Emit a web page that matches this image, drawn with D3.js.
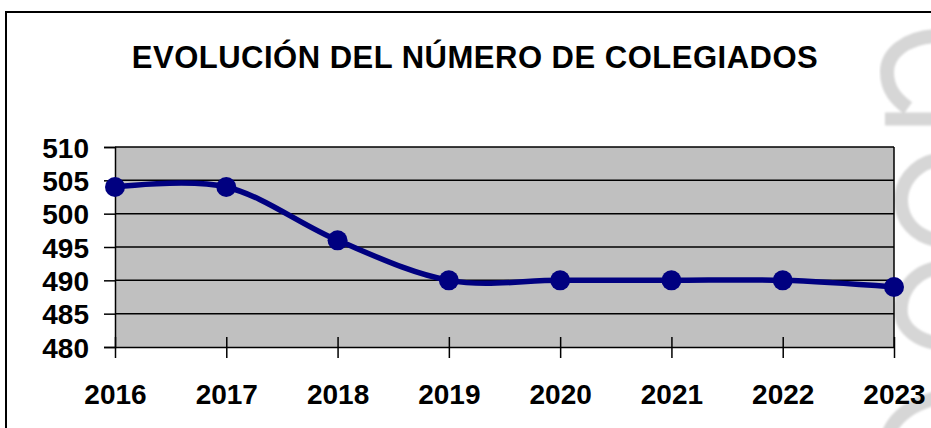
<!DOCTYPE html>
<html>
<head>
<meta charset="utf-8">
<script src="https://cdn.jsdelivr.net/npm/d3@7"></script>
<style>
  html, body { margin: 0; padding: 0; background: #fff; }
  svg { display: block; }
  text { font-family: "Liberation Sans", Arial, sans-serif; font-weight: bold; fill: #000; }
</style>
</head>
<body>
<svg id="chart" width="931" height="428"></svg>
<script>
const title = "EVOLUCIÓN DEL NÚMERO DE COLEGIADOS";
const years = ["2016", "2017", "2018", "2019", "2020", "2021", "2022", "2023"];
const colegiados = [504, 504, 496, 490, 490, 490, 490, 489];
const yTicks = [480, 485, 490, 495, 500, 505, 510];

const svg = d3.select("#chart");
const W = 931, H = 428;
const plot = { left: 115, right: 894, top: 147, bottom: 347 };

// faint watermark at right edge
const defs = svg.append("defs");
defs.append("filter").attr("id", "soft").append("feGaussianBlur").attr("stdDeviation", 1.2);
const wm = svg.append("g").attr("fill", "none").attr("stroke", "#d6d6d6")
  .attr("stroke-width", 14).attr("filter", "url(#soft)");
wm.append("path").attr("d", "M936,36 C903,38 887,55 887,72 C887,90 897,100 908,108");
wm.append("path").attr("d", "M885,119 L936,119").attr("stroke-width", 13);
wm.append("path").attr("d", "M936,160 C912,165 901,185 901,200 C901,220 915,236 936,240");
wm.append("path").attr("d", "M936,268 C908,274 899,298 901,315 C904,330 918,340 936,343");
wm.append("path").attr("d", "M936,398 C912,405 897,415 889,432");

// outer frame (top and left)
svg.append("path")
  .attr("d", `M6,${H} L6,12 L${W},12`)
  .attr("fill", "none").attr("stroke", "#000").attr("stroke-width", 2);

// title
svg.append("text")
  .attr("x", 475).attr("y", 68)
  .attr("text-anchor", "middle")
  .attr("font-size", 31)
  .attr("letter-spacing", 0.5)
  .text(title);

const x = d3.scalePoint().domain(years).range([plot.left, plot.right]).padding(0);
const y = d3.scaleLinear().domain([480, 510]).range([plot.bottom, plot.top]);

// plot area background
svg.append("rect")
  .attr("x", plot.left).attr("y", plot.top)
  .attr("width", plot.right - plot.left).attr("height", plot.bottom - plot.top)
  .attr("fill", "#c0c0c0");

// gridlines
svg.append("g").selectAll("line").data(yTicks.filter(d => d > 480)).join("line")
  .attr("x1", plot.left).attr("x2", plot.right)
  .attr("y1", d => y(d)).attr("y2", d => y(d))
  .attr("stroke", "#000").attr("stroke-width", 1.5);

// plot border right
svg.append("line")
  .attr("x1", plot.right).attr("x2", plot.right)
  .attr("y1", plot.top).attr("y2", plot.bottom)
  .attr("stroke", "#000").attr("stroke-width", 1.5);

// y axis
const yAxis = svg.append("g")
  .attr("transform", `translate(${plot.left},0)`)
  .call(d3.axisLeft(y).tickValues(yTicks).tickSize(11).tickPadding(15).tickFormat(d3.format("d")));
yAxis.select(".domain").attr("stroke", "#000").attr("stroke-width", 1.5);
yAxis.selectAll(".tick line").attr("stroke", "#000").attr("stroke-width", 1.5);
yAxis.selectAll("text").attr("font-size", 28).attr("dy", "0.36em")
  .style("font-family", '"Liberation Sans", Arial, sans-serif').style("font-weight", "bold");

// x axis
const xAxis = svg.append("g")
  .attr("transform", `translate(0,${plot.bottom})`)
  .call(d3.axisBottom(x).tickSize(11).tickSizeOuter(0).tickPadding(0));
xAxis.select(".domain").attr("stroke", "#000").attr("stroke-width", 1.5);
xAxis.selectAll(".tick line").attr("stroke", "#000").attr("stroke-width", 1.5).attr("y1", -10);
xAxis.selectAll("text").attr("font-size", 28).attr("y", 57).attr("dy", 0)
  .style("font-family", '"Liberation Sans", Arial, sans-serif').style("font-weight", "bold");

// line
const line = d3.line()
  .x((d, i) => x(years[i]))
  .y(d => y(d))
  .curve(d3.curveCardinal.tension(0));
svg.append("path")
  .datum(colegiados)
  .attr("d", line)
  .attr("fill", "none").attr("stroke", "#000080").attr("stroke-width", 5.5);

// markers
svg.append("g").selectAll("circle").data(colegiados).join("circle")
  .attr("cx", (d, i) => x(years[i]))
  .attr("cy", d => y(d))
  .attr("r", 10)
  .attr("fill", "#000080");
</script>
</body>
</html>
